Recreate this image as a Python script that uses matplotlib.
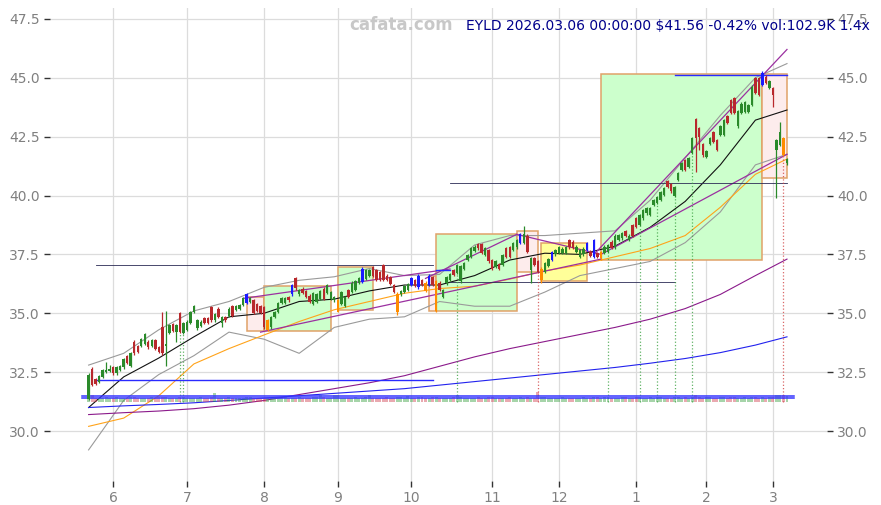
import matplotlib
matplotlib.use("Agg")
import matplotlib.pyplot as plt
from matplotlib.patches import Rectangle
import numpy as np

# header
ticker = "EYLD"
stamp = "2026.03.06 00:00:00"
last_close = 41.56
pct_change = -0.42
last_vol_k = 102.9
vol_ratio = 1.4

# daily candles 2025-05-21 .. 2026-03-06 (index = trading day)
opens = [
    31.35, 32.65, 32.20, 32.08, 32.30, 32.50, 32.55, 32.70, 32.45, 32.60,
    32.70, 33.20, 32.75, 33.80, 33.60, 33.60, 33.70, 33.80, 33.60, 33.85,
    33.55, 34.40, 33.60, 34.15, 34.55, 34.20, 35.00, 34.15, 34.30, 34.60,
    35.05, 34.37, 34.45, 34.80, 34.80, 35.28, 34.70, 35.20, 34.60, 34.85,
    34.90, 35.30, 35.15, 35.20, 35.35, 35.43, 35.50, 35.56, 35.40, 35.30,
    35.27, 34.30, 34.40, 34.84, 35.05, 35.43, 35.45, 35.70, 35.80, 36.50,
    35.80, 36.05, 35.95, 35.75, 35.40, 35.50, 35.60, 36.05, 35.86, 35.60,
    35.56, 35.07, 35.40, 35.30, 36.00, 35.90, 36.00, 36.30, 36.33, 36.45,
    36.60, 36.97, 36.85, 36.75, 37.05, 36.60, 36.55, 36.20, 35.05, 35.80,
    35.90, 36.00, 36.20, 36.40, 36.10, 36.40, 36.30, 36.20, 36.55, 35.10,
    36.30, 35.70, 36.27, 36.41, 36.84, 36.70, 36.35, 36.90, 37.26, 37.40,
    37.65, 37.93, 37.95, 37.47, 37.70, 37.26, 36.98, 37.10, 37.05, 37.76,
    37.80, 37.68, 37.80, 37.98, 38.00, 38.30, 36.85, 37.33, 37.20, 36.40,
    36.75, 37.00, 37.26, 37.50, 37.55, 37.55, 37.55, 38.10, 38.04, 37.62,
    37.40, 37.50, 37.68, 37.62, 37.40, 37.55, 37.33, 37.55, 37.62, 38.04,
    37.80, 38.10, 38.18, 38.50, 38.10, 38.75, 39.04, 38.75, 39.03, 39.24,
    39.17, 39.60, 39.67, 39.80, 40.02, 40.60, 40.50, 40.00, 40.66, 41.10,
    41.50, 41.20, 41.80, 43.23, 42.85, 42.20, 41.65, 42.20, 42.70, 42.36,
    42.57, 42.57, 43.37, 44.05, 44.12, 42.93, 43.50, 43.56, 43.56, 43.84,
    44.97, 44.97, 44.70, 45.05, 44.56, 44.56, 41.93, 42.14, 42.43, 41.36,
]
closes = [
    32.40, 31.95, 32.00, 32.34, 32.60, 32.60, 32.65, 32.45, 32.70, 32.75,
    33.05, 32.90, 33.30, 33.30, 33.35, 33.90, 34.10, 33.55, 33.85, 33.50,
    33.35, 33.30, 33.70, 34.50, 34.25, 34.50, 34.20, 34.60, 34.65, 35.05,
    35.30, 34.70, 34.65, 34.60, 34.60, 34.70, 34.95, 34.85, 34.85, 34.70,
    35.20, 34.90, 35.30, 35.35, 35.66, 35.80, 35.65, 35.00, 35.10, 35.00,
    34.40, 34.70, 34.84, 35.05, 35.43, 35.65, 35.65, 35.55, 36.20, 36.07,
    36.00, 35.85, 35.70, 35.50, 35.85, 35.80, 35.95, 35.60, 36.20, 35.90,
    35.70, 35.56, 35.90, 35.70, 35.70, 36.30, 36.35, 36.50, 36.90, 36.85,
    36.85, 36.60, 36.40, 36.40, 36.40, 36.40, 36.25, 35.90, 35.80, 35.95,
    36.15, 36.25, 36.50, 36.15, 36.60, 36.20, 35.95, 36.60, 36.20, 36.35,
    36.00, 36.00, 36.55, 36.65, 36.62, 37.05, 37.00, 37.12, 37.47, 37.76,
    37.83, 37.76, 37.56, 37.76, 37.20, 36.90, 37.20, 36.90, 37.47, 37.40,
    37.40, 37.97, 38.10, 38.37, 38.35, 37.60, 37.35, 37.05, 36.76, 36.90,
    37.13, 37.30, 37.60, 37.70, 37.80, 37.75, 37.80, 37.80, 37.76, 37.83,
    37.68, 37.75, 37.97, 37.45, 38.10, 37.40, 37.60, 37.83, 37.90, 37.76,
    38.30, 38.32, 38.40, 38.30, 38.30, 38.30, 38.68, 39.17, 39.38, 39.45,
    39.45, 39.80, 39.95, 40.13, 40.30, 40.37, 40.17, 40.37, 40.95, 41.37,
    41.08, 41.60, 42.43, 42.43, 42.50, 41.70, 41.87, 42.43, 42.28, 41.93,
    42.93, 43.20, 43.08, 43.50, 43.50, 43.57, 43.90, 43.98, 43.84, 44.62,
    44.34, 44.27, 45.20, 44.77, 44.85, 44.27, 42.36, 42.70, 41.74, 41.56,
]
highs = [
    32.45, 32.70, 32.25, 32.40, 32.65, 32.95, 32.80, 32.75, 32.75, 32.80,
    33.10, 33.25, 33.35, 33.85, 33.65, 33.95, 34.15, 33.85, 33.90, 33.90,
    33.60, 35.05, 35.10, 34.55, 34.60, 34.55, 35.05, 34.65, 34.70, 35.10,
    35.35, 34.75, 34.70, 34.85, 34.85, 35.33, 35.00, 35.25, 34.90, 34.90,
    35.25, 35.35, 35.35, 35.40, 35.70, 35.85, 35.70, 35.60, 35.45, 35.35,
    35.30, 34.75, 34.90, 35.10, 35.48, 35.70, 35.70, 35.75, 36.25, 36.55,
    36.05, 36.10, 36.00, 35.80, 35.90, 35.85, 36.00, 36.10, 36.25, 35.95,
    35.75, 35.60, 35.95, 35.75, 36.05, 36.35, 36.40, 36.55, 36.95, 36.90,
    36.90, 37.00, 36.90, 36.80, 37.10, 36.65, 36.60, 36.25, 35.90, 36.00,
    36.20, 36.30, 36.55, 36.45, 36.65, 36.45, 36.35, 36.65, 36.60, 36.40,
    36.35, 36.05, 36.60, 36.70, 36.90, 37.10, 37.05, 37.17, 37.52, 37.80,
    37.88, 37.98, 38.00, 37.80, 37.75, 37.30, 37.25, 37.15, 37.52, 37.80,
    37.85, 38.02, 38.15, 38.42, 38.70, 38.35, 37.40, 37.38, 37.25, 36.95,
    37.18, 37.35, 37.65, 37.75, 37.85, 37.80, 37.85, 38.15, 38.09, 37.88,
    37.73, 37.80, 38.02, 37.67, 38.15, 37.60, 37.65, 37.88, 37.95, 38.09,
    38.35, 38.37, 38.45, 38.55, 38.35, 38.80, 39.09, 39.22, 39.43, 39.50,
    39.50, 39.85, 40.00, 40.18, 40.35, 40.65, 40.55, 40.42, 41.00, 41.42,
    41.55, 41.65, 42.48, 43.30, 42.90, 42.25, 41.92, 42.48, 42.75, 42.41,
    42.98, 43.25, 43.42, 44.10, 44.17, 43.62, 43.95, 44.03, 43.89, 44.67,
    45.02, 45.02, 45.30, 45.10, 44.90, 44.61, 42.41, 43.14, 42.48, 41.61,
]
lows = [
    31.30, 31.90, 31.95, 32.05, 32.25, 32.45, 32.50, 32.40, 32.40, 32.55,
    32.65, 32.85, 32.70, 33.25, 33.30, 33.55, 33.65, 33.50, 33.55, 33.45,
    33.30, 33.25, 32.76, 34.10, 34.20, 33.80, 34.15, 34.10, 34.25, 34.55,
    35.00, 34.30, 34.40, 34.55, 34.55, 34.65, 34.65, 34.80, 34.40, 34.65,
    34.85, 34.85, 35.10, 35.15, 35.30, 35.40, 35.45, 34.95, 35.05, 34.95,
    34.35, 34.25, 34.35, 34.80, 35.00, 35.40, 35.40, 35.50, 35.75, 36.00,
    35.75, 35.80, 35.65, 35.45, 35.35, 35.45, 35.55, 35.55, 35.80, 35.55,
    35.50, 35.05, 35.35, 35.25, 35.65, 35.85, 35.95, 36.25, 36.30, 36.40,
    36.55, 36.55, 36.35, 36.35, 36.35, 36.35, 36.20, 35.85, 34.93, 35.75,
    35.85, 35.95, 36.15, 36.10, 36.05, 36.15, 35.90, 36.15, 36.15, 35.05,
    35.95, 35.65, 36.22, 36.36, 36.58, 36.65, 36.30, 36.85, 37.21, 37.35,
    37.60, 37.70, 37.50, 37.42, 37.15, 36.85, 36.93, 36.85, 37.00, 37.35,
    37.35, 37.63, 37.75, 37.93, 37.95, 37.55, 36.27, 37.00, 36.70, 36.30,
    36.70, 36.95, 37.21, 37.45, 37.50, 37.50, 37.50, 37.75, 37.71, 37.57,
    37.35, 37.45, 37.63, 37.40, 37.35, 37.35, 37.28, 37.50, 37.57, 37.71,
    37.75, 38.05, 38.13, 38.25, 38.05, 38.25, 38.63, 38.70, 38.98, 39.19,
    39.12, 39.55, 39.62, 39.75, 39.97, 40.32, 40.12, 39.95, 40.61, 41.05,
    41.03, 41.15, 41.75, 41.00, 41.93, 41.65, 41.60, 42.15, 42.23, 41.88,
    42.52, 42.52, 43.03, 43.45, 43.45, 42.88, 43.45, 43.51, 43.51, 43.79,
    44.29, 44.22, 44.65, 44.72, 44.51, 43.77, 39.90, 42.09, 41.69, 41.31,
]
volumes_k = [
    140, 120, 70, 65, 60, 75, 70, 65, 80, 60,
    70, 65, 75, 80, 60, 70, 65, 60, 75, 70,
    80, 90, 85, 70, 65, 60, 75, 80, 70, 65,
    60, 70, 75, 65, 70, 80, 150, 70, 65, 60,
    75, 70, 65, 60, 70, 80, 75, 70, 65, 60,
    70, 65, 60, 75, 70, 65, 80, 70, 65, 70,
    75, 60, 65, 70, 75, 80, 110, 75, 70, 65,
    120, 115, 70, 65, 60, 70, 75, 65, 70, 80,
    115, 70, 65, 60, 70, 75, 60, 70, 80, 75,
    70, 105, 65, 70, 75, 80, 70, 65, 75, 80,
    70, 65, 70, 60, 75, 120, 80, 70, 65, 60,
    70, 75, 65, 70, 80, 75, 70, 65, 60, 70,
    75, 70, 65, 80, 70, 75, 65, 70, 160, 80,
    75, 70, 65, 60, 70, 75, 65, 70, 60, 65,
    70, 75, 65, 70, 90, 75, 70, 80, 75, 70,
    65, 70, 75, 80, 70, 65, 75, 80, 70, 65,
    75, 70, 80, 75, 70, 65, 70, 75, 80, 70,
    75, 70, 80, 110, 75, 70, 80, 75, 70, 65,
    75, 80, 70, 75, 80, 70, 65, 75, 70, 80,
    75, 70, 80, 70, 75, 80, 120, 115, 110, 102.9,
]
blue_days = [45, 58, 78, 92, 94, 97, 123, 132, 142, 144, 192]
orange_days = [51, 71, 88, 96, 99, 129, 146, 198]
buy_marks = [26, 27, 105, 148, 157, 162, 167, 172]
sell_marks = [128, 198]

month_days = [7, 28, 50, 71, 92, 115, 134, 156, 176, 195]
month_labels = ["6", "7", "8", "9", "10", "11", "12", "1", "2", "3"]

# indicator lines read every 10 sessions
ind_days = [0, 10, 20, 30, 40, 50, 60, 70, 80, 90, 100,
            110, 120, 130, 140, 150, 160, 170, 180, 190, 199]
ma_short = [31.0, 32.3, 33.1, 34.0, 34.85, 35.0, 35.5, 35.6, 35.95, 36.2, 36.2,
            36.6, 37.26, 37.55, 37.5, 37.85, 38.65, 39.75, 41.3, 43.2, 43.63]
band_up = [32.8, 33.3, 34.3, 35.1, 35.5, 36.1, 36.4, 36.55, 36.9, 36.6, 36.65,
           37.9, 38.3, 38.3, 38.4, 38.5, 39.8, 41.6, 43.4, 45.0, 45.6]
band_lo = [29.2, 31.3, 32.4, 33.2, 34.2, 33.9, 33.3, 34.4, 34.75, 34.85, 35.5,
           35.3, 35.3, 35.9, 36.6, 36.9, 37.2, 38.0, 39.3, 41.3, 41.75]
ma_mid = [30.2, 30.55, 31.5, 32.85, 33.5, 34.08, 34.65, 35.15, 35.5, 35.85, 36.05,
          36.15, 36.45, 36.8, 37.05, 37.4, 37.75, 38.3, 39.5, 40.9, 41.55]
ma_long = [30.7, 30.78, 30.85, 30.95, 31.1, 31.3, 31.55, 31.8, 32.05, 32.35, 32.75,
           33.15, 33.5, 33.8, 34.1, 34.4, 34.75, 35.2, 35.8, 36.6, 37.3]
ma_year = [31.0, 31.07, 31.13, 31.2, 31.3, 31.4, 31.5, 31.6, 31.7, 31.8, 31.95,
           32.1, 32.25, 32.4, 32.55, 32.7, 32.88, 33.08, 33.33, 33.65, 34.0]

# trend lines: start day, start price, end day, end price
tl_d0 = [44, 49, 96, 122, 144, 146]
tl_p0 = [35.63, 34.2, 36.48, 38.35, 37.5, 37.5]
tl_d1 = [103, 146, 122, 146, 199, 199]
tl_p1 = [36.88, 37.3, 38.35, 37.5, 46.2, 41.75]

# consolidation boxes
box_d0 = [45, 50, 71, 97, 99, 122, 129, 146, 192]
box_d1 = [50, 69, 81, 99, 122, 128, 142, 192, 199]
box_lo = [34.25, 34.25, 35.15, 35.1, 35.1, 36.75, 36.35, 37.25, 40.75]
box_hi = [35.7, 36.15, 36.95, 36.6, 38.35, 38.5, 38.0, 45.15, 45.15]
box_kind = ["dn", "up", "up", "dn", "up", "dn", "flat", "up", "dn"]

# horizontal levels
lvl_d0 = [2, 2, 103, 103, 167, 99]
lvl_d1 = [98, 98, 199, 167, 199, 103]
lvl_p = [37.05, 32.15, 40.55, 36.34, 45.1, 36.85]
lvl_bold = [False, True, False, False, True, True]

vol_base = 31.24
vol_scale = 0.0025
vol_avg_k = last_vol_k / vol_ratio
vol_hi_k = 100

n = len(closes)
idx = np.arange(n)
o = np.array(opens)
c = np.array(closes)

GREEN = "#2a8a2a"
RED = "#b8282c"
colors = [GREEN if c[i] >= o[i] else RED for i in range(n)]
for d in blue_days:
    colors[d] = "#1a1aff"
for d in orange_days:
    colors[d] = "#ff8c00"

fig = plt.figure(figsize=(8.81, 5.05), dpi=100)
ax = fig.add_axes([50 / 881, 24 / 505, 777 / 881, 473 / 505])

ax.set_xlim(-11, 210.4)
ax.set_ylim(27.88, 47.96)
ax.set_axisbelow(True)
ax.grid(True, color="#dcdcdc", lw=0.9)
for s in ax.spines.values():
    s.set_visible(False)
ax.set_xticks(month_days)
ax.set_xticklabels(month_labels)
ax.set_yticks(np.arange(30, 48, 2.5))
ax.set_yticklabels([f"{v:.1f}" for v in np.arange(30, 48, 2.5)])
ax.tick_params(axis="both", colors="#333333", labelcolor="#808080",
               labelsize=10, length=4, width=1)
ax.tick_params(axis="y", right=True, labelright=True)

# boxes
fills = {"up": "#ccffcc", "dn": "#fdecec", "flat": "#ffff99"}
for a, b, lo, hi, k in zip(box_d0, box_d1, box_lo, box_hi, box_kind):
    ax.add_patch(Rectangle((a, lo), b - a, hi - lo, facecolor=fills[k],
                           edgecolor="#e0a268", lw=1.1, zorder=1))

# indicator lines
ax.plot(ind_days, band_up, color="#9a9a9a", lw=0.8, zorder=2)
ax.plot(ind_days, band_lo, color="#9a9a9a", lw=0.8, zorder=2)
ax.plot(ind_days, ma_short, color="#111111", lw=0.8, zorder=2)
ax.plot(ind_days, ma_mid, color="#ffa31a", lw=0.8, zorder=2)
ax.plot(ind_days, ma_long, color="#8b1a8b", lw=0.8, zorder=2)
ax.plot(ind_days, ma_year, color="#2222ee", lw=0.8, zorder=2)

for a, pa, b, pb in zip(tl_d0, tl_p0, tl_d1, tl_p1):
    ax.plot([a, b], [pa, pb], color="#9b30a0", lw=0.9, zorder=2)

for a, b, p, bold in zip(lvl_d0, lvl_d1, lvl_p, lvl_bold):
    if bold:
        ax.plot([a, b], [p, p], color="#2a2aff", lw=1.0, zorder=2)
    else:
        ax.plot([a, b], [p, p], color="#2b2b55", lw=0.6, zorder=2)

# signal markers
l = np.array(lows)
ax.vlines(buy_marks, vol_base, l[buy_marks], colors="#3aa040", lw=0.9,
          linestyles=":", alpha=0.8, zorder=2)
ax.vlines(sell_marks, vol_base, l[sell_marks], colors="#d04040", lw=0.9,
          linestyles=":", alpha=0.8, zorder=2)

# volume
vol = np.array(volumes_k)
vcol = ["#3aa040" if c[i] >= o[i] else "#d04050" for i in range(n)]
ax.bar(idx, vol * vol_scale, bottom=vol_base, width=0.85, color=vcol,
       alpha=0.45, zorder=2)
ax.plot([-2, n + 1], [vol_base + vol_avg_k * vol_scale] * 2, color="#3535ff", lw=1.1, zorder=2)
ax.plot([-2, n + 1], [vol_base + vol_hi_k * vol_scale] * 2, color="#3535ff", lw=1.1, zorder=2)

# candles
ax.vlines(idx, lows, highs, colors=colors, lw=0.9, zorder=3)
body = np.maximum(np.abs(c - o), 0.03)
ax.bar(idx, body, bottom=np.minimum(o, c), width=0.7, color=colors, zorder=3)

fig.text(401 / 881, 1 - 25 / 505, "cafata.com", color="#c8c8c8", fontsize=12,
         fontweight="bold", ha="center", va="center")
title = f"{ticker} {stamp} ${last_close:.2f} {pct_change:.2f}% vol:{last_vol_k}K {vol_ratio}x"
fig.text(870 / 881, 1 - 26 / 505, title, color="#00008b", fontsize=10,
         ha="right", va="center")

fig.savefig("out.png", dpi=100)
